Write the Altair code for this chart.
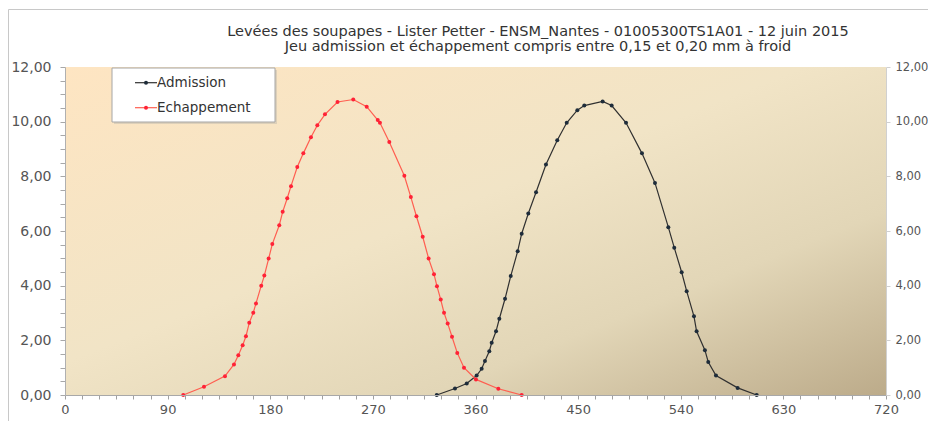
import altair as alt
import pandas as pd

# ---- data ----
series_names = ["Admission", "Echappement"]
line_colors = ["#303030", "#ff5e50"]
point_colors = ["#1e2c3a", "#ff2236"]

adm_deg = [326.0, 342.0, 352.3, 361.0, 365.4, 368.3, 372.1, 374.2, 378.0, 380.9,
           385.9, 390.9, 397.0, 400.5, 406.3, 413.1, 421.8, 431.7, 440.0, 449.3,
           455.4, 471.5, 479.4, 492.0, 506.0, 517.4, 529.1, 534.3, 540.8, 545.2,
           551.6, 553.9, 561.2, 564.1, 570.9, 589.9, 606.6]
adm_lift = [0.00, 0.24, 0.42, 0.71, 0.96, 1.24, 1.60, 1.91, 2.33, 2.79,
            3.52, 4.35, 5.26, 5.90, 6.64, 7.42, 8.43, 9.32, 9.96, 10.42,
            10.59, 10.74, 10.59, 9.96, 8.84, 7.76, 6.14, 5.39, 4.49, 3.80,
            2.88, 2.33, 1.64, 1.21, 0.71, 0.26, 0.00]

ech_deg = [103.7, 121.9, 140.3, 148.2, 152.0, 155.8, 158.7, 161.6, 165.1, 167.5,
           172.1, 174.8, 178.6, 181.8, 187.9, 190.9, 194.9, 198.2, 203.7, 209.0,
           215.7, 221.3, 228.0, 239.0, 252.8, 264.6, 274.3, 276.2, 284.4, 297.6,
           303.3, 308.2, 313.7, 318.9, 323.6, 326.2, 329.5, 332.4, 335.6, 339.4,
           344.0, 349.9, 360.4, 380.0, 400.5]
ech_lift = [0.00, 0.30, 0.69, 1.12, 1.45, 1.82, 2.15, 2.64, 3.01, 3.35,
            4.00, 4.37, 4.99, 5.52, 6.21, 6.70, 7.20, 7.64, 8.34, 8.84,
            9.43, 9.87, 10.27, 10.72, 10.81, 10.55, 10.06, 9.96, 9.26, 8.02,
            7.24, 6.54, 5.79, 4.99, 4.42, 3.98, 3.49, 3.01, 2.62, 2.13,
            1.54, 1.00, 0.57, 0.23, 0.00]

x_tick_values = list(range(0, 721, 15))
y_tick_values = [i * 0.5 for i in range(25)]
y_major_values = [0, 2, 4, 6, 8, 10, 12]
title_lines = [
    "Levées des soupapes - Lister Petter - ENSM_Nantes - 01005300TS1A01 - 12 juin 2015",
    "Jeu admission et échappement compris entre 0,15 et 0,20 mm à froid",
]

W, H = 821, 328
FONT = "DejaVu Sans"

df = pd.concat([
    pd.DataFrame({"deg": adm_deg, "lift": adm_lift, "serie": series_names[0]}),
    pd.DataFrame({"deg": ech_deg, "lift": ech_lift, "serie": series_names[1]}),
], ignore_index=True)
df["idx"] = df.index

fr_label = "replace(format(datum.value, '.2f'), '.', ',')"

x_scale = alt.Scale(domain=[0, 720], nice=False, zero=False)
y_scale = alt.Scale(domain=[0, 12], nice=False)

x_enc = alt.X("deg:Q", scale=x_scale,
              axis=alt.Axis(values=x_tick_values, title=None, grid=False, zindex=1,
                            labelExpr="datum.value % 90 === 0 ? datum.label : ''",
                            tickSize=4, tickColor="#a0a0a0", domainColor="#a8a8a8",
                            labelColor="#555555", labelFont=FONT, labelFontSize=13,
                            labelPadding=4, labelFlush=False, labelOverlap=False))
y_left = alt.Y("lift:Q", scale=y_scale,
               axis=alt.Axis(values=y_tick_values, title=None, grid=False, zindex=1,
                             labelExpr=f"datum.value % 2 === 0 ? {fr_label} : ''",
                             tickSize=5, tickColor="#a8a8a8", domainColor="#b0b0b0",
                             labelColor="#555555", labelFont=FONT, labelFontSize=14,
                             labelPadding=9, labelOverlap=False))
y_right = alt.Y("lift:Q", scale=y_scale,
                axis=alt.Axis(values=y_major_values, orient="right", title=None, grid=False, zindex=1,
                              labelExpr=fr_label, tickSize=4, tickColor="#d0d0d0",
                              domainColor="#d0d0d0", labelColor="#555555", labelFont=FONT,
                              labelFontSize=11.5, labelPadding=5, labelOverlap=False))

gradient = alt.LinearGradient(
    gradient="linear", x1=0, y1=0, x2=1, y2=1,
    stops=[alt.GradientStop(color="#fee5c2", offset=0),
           alt.GradientStop(color="#f1e4c6", offset=0.45),
           alt.GradientStop(color="#e2d6b7", offset=0.72),
           alt.GradientStop(color="#bcab8a", offset=1)])

one = pd.DataFrame({"a": [0]})

border = alt.Chart(one).mark_rect(filled=False, color="#c8c8c8", strokeWidth=1).encode(
    x=alt.value(-56.5), x2=alt.value(W + 200), y=alt.value(-57.5), y2=alt.value(H + 200))

bg = alt.Chart(one).mark_rect(color=gradient).encode(
    x=alt.value(0), x2=alt.value(W), y=alt.value(0), y2=alt.value(H))

lines = alt.Chart(df).mark_line(strokeWidth=1.2).encode(
    x=x_enc, y=y_left,
    stroke=alt.Stroke("serie:N", scale=alt.Scale(domain=series_names, range=line_colors), legend=None),
    detail="serie:N", order="idx:Q")

points = alt.Chart(df).mark_point(filled=True, size=16, opacity=1).encode(
    x=alt.X("deg:Q", scale=x_scale, axis=None),
    y=alt.Y("lift:Q", scale=y_scale, axis=None),
    fill=alt.Fill("serie:N", scale=alt.Scale(domain=series_names, range=point_colors), legend=None))

right_axis = alt.Chart(df).mark_point(opacity=0).encode(
    x=alt.X("deg:Q", scale=x_scale, axis=None), y=y_right)

# ---- title as text (two lines) ----
title_df = pd.DataFrame({"t": title_lines})
title_layers = []
for i, line in enumerate(title_lines):
    title_layers.append(alt.Chart(title_df[title_df.t == line]).mark_text(
        align="center", baseline="middle", font=FONT, fontSize=14.5, color="#333333").encode(
        x=alt.value(473), y=alt.value(-35 + 15 * i), text="t:N"))

# ---- manual legend (layout only) ----
leg = pd.DataFrame({"serie": series_names})
leg_box_shadow = alt.Chart(one).mark_rect(fill="#c9c2b2", opacity=0.6).encode(
    x=alt.value(49), x2=alt.value(212), y=alt.value(3), y2=alt.value(57))
leg_box = alt.Chart(one).mark_rect(fill="white", stroke="#a6a6a6", strokeWidth=1).encode(
    x=alt.value(47), x2=alt.value(210), y=alt.value(1), y2=alt.value(55))
leg_items = []
for i, name in enumerate(series_names):
    yc = 15.7 + 25 * i
    sub = leg[leg.serie == name]
    leg_items.append(alt.Chart(sub).mark_rule(color=line_colors[i], strokeWidth=1.2).encode(
        x=alt.value(70), x2=alt.value(92), y=alt.value(yc)))
    leg_items.append(alt.Chart(sub).mark_point(filled=True, size=16, color=point_colors[i], opacity=1).encode(
        x=alt.value(81), y=alt.value(yc)))
    leg_items.append(alt.Chart(sub).mark_text(align="left", baseline="middle", font=FONT, fontSize=13.5,
                                              color="#333333").encode(
        x=alt.value(92), y=alt.value(yc), text="serie:N"))

chart = alt.layer(border, bg, lines, points, right_axis, *title_layers,
                  leg_box_shadow, leg_box, *leg_items).resolve_axis(
    x="independent", y="independent"
).properties(
    width=W, height=H,
    autosize=alt.AutoSizeParams(type="none"),
    padding={"left": 57, "top": 59, "right": 42, "bottom": 26},
).configure_view(stroke=None)

chart.save("out.html", embed_options={"renderer": "svg", "actions": False})
